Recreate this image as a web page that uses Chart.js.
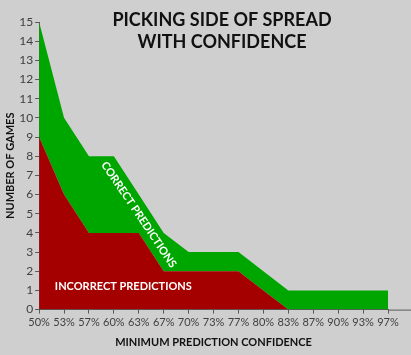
<!DOCTYPE html>
<html>
<head>
<meta charset="utf-8">
<script src="https://cdn.jsdelivr.net/npm/chart.js@4.4.1/dist/chart.umd.min.js"></script>
<style>
  html, body { margin: 0; padding: 0; background: #cfcfcf; }
  #wrap { width: 411px; height: 355px; }
</style>
</head>
<body>
<div id="wrap"><canvas id="myChart" width="411" height="355"></canvas></div>
<script>
// data
var confidenceLabels = ["50%","53%","57%","60%","63%","67%","70%","73%","77%","80%","83%","87%","90%","93%","97%"];
var incorrectGames = [9, 6, 4, 4, 4, 2, 2, 2, 2, 1, 0, 0, 0, 0, 0];
var correctGames   = [6, 4, 4, 4, 2, 2, 1, 1, 1, 1, 1, 1, 1, 1, 1];
var titleLines = ["PICKING SIDE OF SPREAD", "WITH CONFIDENCE"];

var FONT = "Lato, 'Open Sans', sans-serif";

// background, title and the in-area labels
var decorations = {
  id: 'decorations',
  beforeDraw: function (chart) {
    var c = chart.ctx;
    c.save();
    c.fillStyle = '#cfcfcf';
    c.fillRect(0, 0, chart.width, chart.height);
    c.restore();
  },
  afterDatasetsDraw: function (chart) {
    var c = chart.ctx;
    var x = chart.scales.x, y = chart.scales.y;
    c.save();
    c.fillStyle = '#ffffff';
    c.font = 'bold 11px ' + FONT;
    c.textAlign = 'center';
    c.textBaseline = 'middle';
    // incorrect label, under the red area
    var ix = x.getPixelForValue(3) + 0.38 * (x.getPixelForValue(4) - x.getPixelForValue(3));
    c.fillText('INCORRECT PREDICTIONS', ix, y.getPixelForValue(1.2));
    // correct label, along the green slope
    c.translate(x.getPixelForValue(4), y.getPixelForValue(4.95));
    c.rotate(56 * Math.PI / 180);
    c.fillText('CORRECT PREDICTIONS', 0, 0);
    c.restore();

    // extend x axis line to right edge
    c.save();
    c.strokeStyle = '#595959';
    c.lineWidth = 1;
    c.beginPath();
    c.moveTo(chart.chartArea.right, chart.chartArea.bottom + 0.5);
    c.lineTo(chart.width, chart.chartArea.bottom + 0.5);
    c.stroke();
    c.restore();

    // title on top of the plot
    c.save();
    c.fillStyle = '#111111';
    c.font = 'bold 18px ' + FONT;
    c.textAlign = 'center';
    c.textBaseline = 'middle';
    c.fillText(titleLines[0], 222, 20);
    c.fillText(titleLines[1], 222, 42);
    c.restore();
  }
};

var ctx = document.getElementById("myChart").getContext('2d');

var myChart = new Chart(ctx, {
  type: 'line',
  data: {
    labels: confidenceLabels,
    datasets: [
      {
        label: "Incorrect predictions",
        data: incorrectGames,
        backgroundColor: "#a50000",
        borderWidth: 0,
        pointRadius: 0,
        fill: 'origin',
        tension: 0
      }, {
        label: "Correct predictions",
        data: correctGames,
        backgroundColor: "#00a600",
        borderWidth: 0,
        pointRadius: 0,
        fill: '-1',
        tension: 0
      }
    ]
  },
  options: {
    responsive: false,
    animation: false,
    layout: { padding: { top: 22, right: 23, bottom: 3, left: 4 } },
    plugins: {
      legend: { display: false },
      title: { display: false },
      tooltip: { enabled: false }
    },
    scales: {
      x: {
        offset: false,
        grid: { display: true, drawOnChartArea: false, drawTicks: true, tickLength: 4, color: '#595959' },
        border: { color: '#595959' },
        ticks: { color: '#404040', font: { family: FONT, size: 11 }, maxRotation: 0, autoSkip: false, padding: 2 },
        title: { display: true, text: 'MINIMUM PREDICTION CONFIDENCE', color: '#111111', font: { family: FONT, size: 11, weight: 'bold' }, padding: { top: 5, bottom: 3 } }
      },
      y: {
        stacked: true,
        min: 0,
        max: 15,
        grid: { display: true, drawOnChartArea: false, drawTicks: true, tickLength: 4, color: '#595959' },
        border: { color: '#595959' },
        ticks: { stepSize: 1, color: '#404040', font: { family: FONT, size: 12 }, padding: 2 },
        title: { display: true, text: 'NUMBER OF GAMES', color: '#111111', font: { family: FONT, size: 11, weight: 'bold' }, padding: 0 }
      }
    }
  },
  plugins: [decorations]
});
</script>
</body>
</html>
